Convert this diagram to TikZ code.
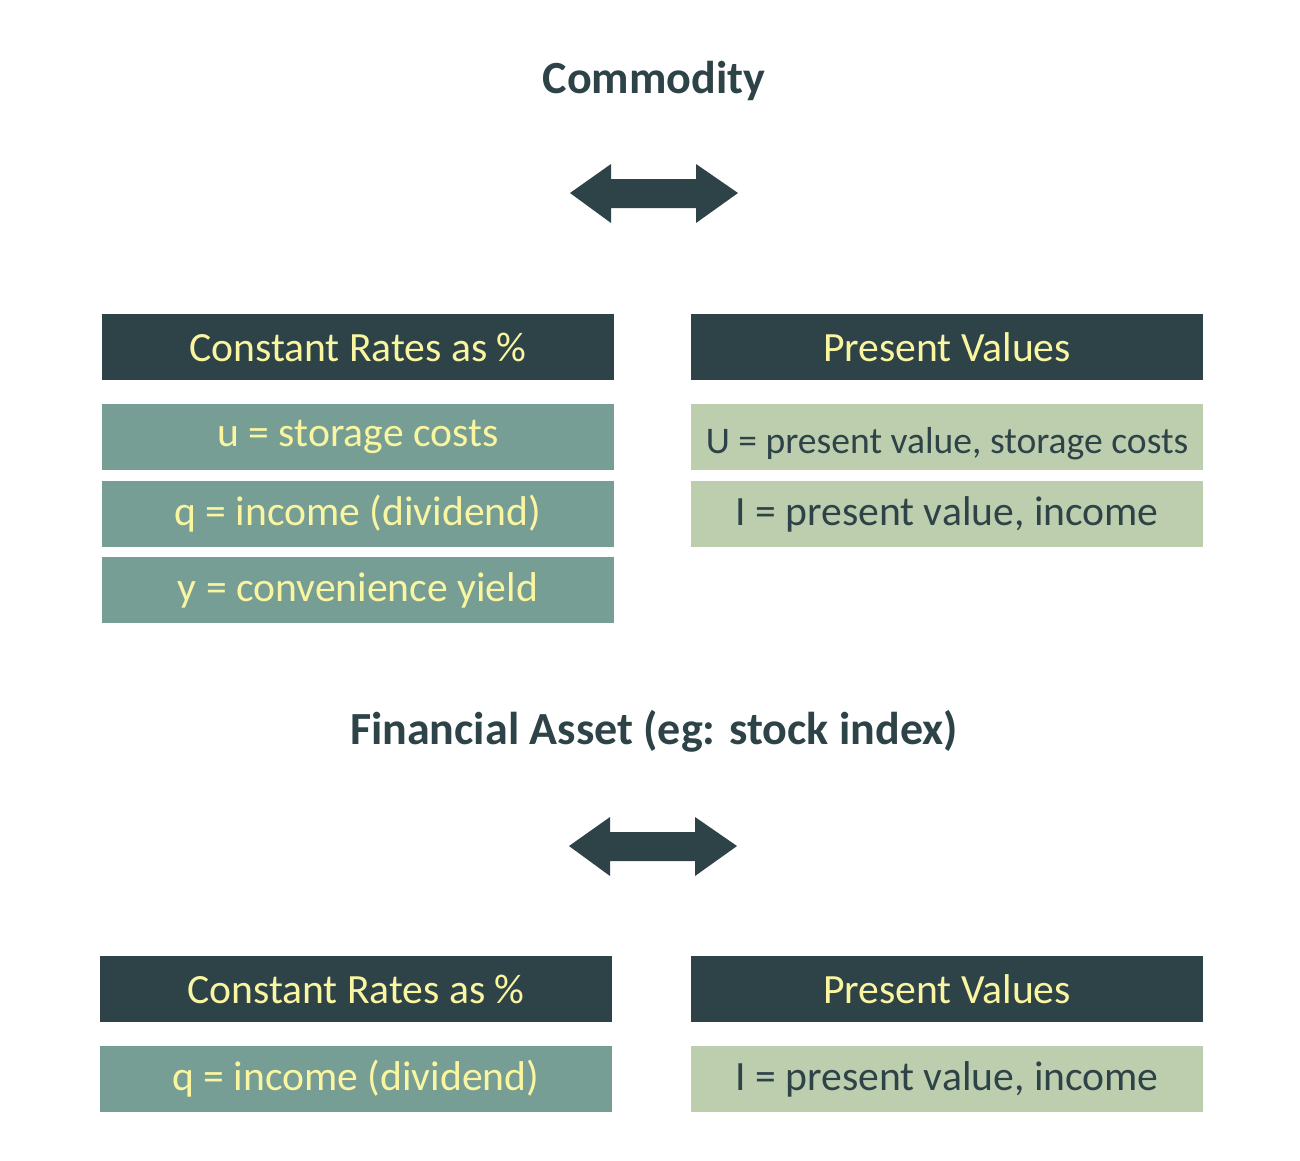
\documentclass[tikz,border=0pt]{standalone}
\usepackage{fontspec}
\setmainfont{Carlito}
\definecolor{slate}{HTML}{2D4347}
\definecolor{teal}{HTML}{769E95}
\definecolor{sage}{HTML}{BDCEAF}
\definecolor{cream}{HTML}{FAF5A0}
\begin{document}
\begin{tikzpicture}[x=0.02cm,y=-0.02cm]
  \tikzstyle{box}=[rectangle,minimum width=10.24cm,minimum height=1.32cm,inner sep=0pt,font=\fontsize{23.7}{28}\selectfont]
  \tikzstyle{header}=[box,fill=slate,text=cream]
  \tikzstyle{rate}=[box,fill=teal,text=cream]
  \tikzstyle{pv}=[box,fill=sage,text=slate]
  \tikzstyle{title}=[text=slate,font=\fontsize{26.2}{31}\selectfont\bfseries]
  \useasboundingbox (0,0) rectangle (1300,1160);

  % commodity
  \node[title] (commodity) at (654,81) {Commodity};
  \fill[slate] (570,193) -- (611,164) -- (611,179) -- (696,179) -- (696,164) -- (738,193)
    -- (696,223) -- (696,208) -- (611,208) -- (611,223) -- cycle;
  \node[header] (ratesA) at (358,347) {Constant Rates as \%};
  \node[rate] (storage) at (358,437) {u = storage costs};
  \node[rate] (incomeA) at (358,514) {q = income (dividend)};
  \node[rate] (yield) at (358,590) {y = convenience yield};
  \node[header] (valuesA) at (947,347) {Present Values};
  \node[pv, font=\fontsize{21.4}{25}\selectfont, text height=23pt, text depth=4.5pt] (pvstorage) at (947,437) {U = present value, storage costs};
  \node[pv] (pvincomeA) at (947,514) {I = present value, income};

  % financial asset
  \node[title] (asset) at (654,731) {Financial Asset (eg: stock index)};
  \fill[slate] (569,846) -- (610,817) -- (610,832) -- (695,832) -- (695,817) -- (737,846)
    -- (695,876) -- (695,861) -- (610,861) -- (610,876) -- cycle;
  \node[header] (ratesB) at (356,989) {Constant Rates as \%};
  \node[rate] (incomeB) at (356,1079) {q = income (dividend)};
  \node[header] (valuesB) at (947,989) {Present Values};
  \node[pv] (pvincomeB) at (947,1079) {I = present value, income};
\end{tikzpicture}
\end{document}
